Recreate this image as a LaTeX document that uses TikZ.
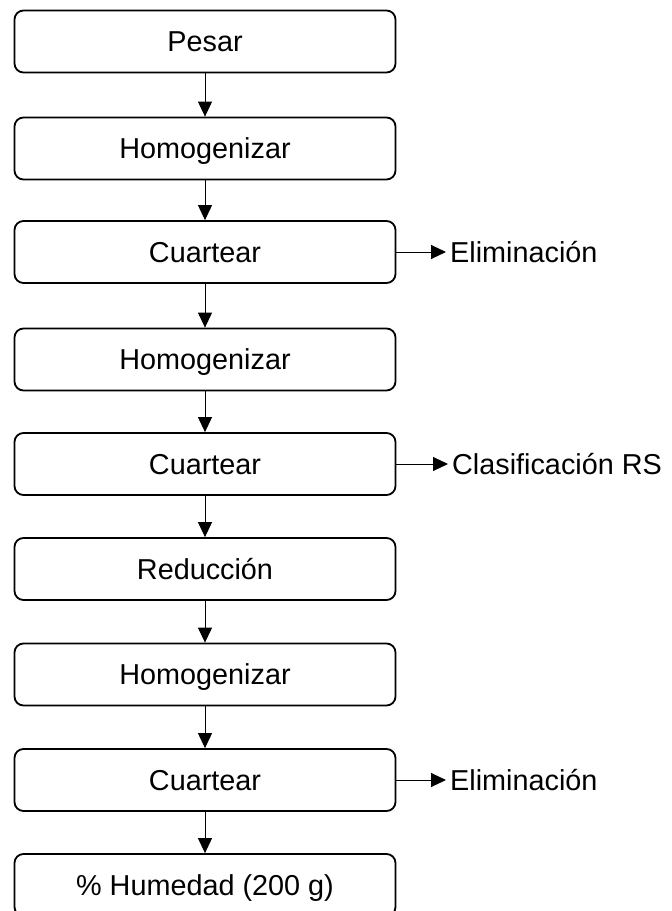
\documentclass[tikz,border=0pt]{standalone}
\usepackage{fontspec}
\setmainfont{Liberation Sans}
\usetikzlibrary{arrows.meta,positioning}
\tikzset{stepbox/.style={draw,line width=1.8pt,rounded corners=9pt,minimum width=381pt,
  minimum height=62pt,inner sep=0pt,text height=20.6pt,text depth=0pt,
  font=\fontsize{28.8}{34}\selectfont}}
\tikzset{outtext/.style={anchor=west,inner ysep=0pt,inner xsep=4pt,text height=20.6pt,text depth=0pt,
  font=\fontsize{28.8}{34}\selectfont}}
\tikzset{flow/.style={line width=1pt,-{Triangle[length=15pt,width=14pt]}}}

\begin{document}
\begin{tikzpicture}[x=1pt,y=-1pt]
\clip (0,0) rectangle (672,911);
\node[stepbox] (pesar) at (205,41.5) {Pesar};
\node[stepbox] (homogA) at (205,148.5) {Homogenizar};
\node[stepbox] (cuartA) at (205,252) {Cuartear};
\node[stepbox] (homogB) at (205,359.5) {Homogenizar};
\node[stepbox] (cuartB) at (205,464) {Cuartear};
\node[stepbox] (reduc) at (205,569) {Reducción};
\node[stepbox] (homogC) at (205,674.5) {Homogenizar};
\node[stepbox] (cuartC) at (205,780) {Cuartear};
\node[stepbox] (humed) at (205,885) {\% Humedad (200 g)};
\node[outtext] (elimA) at (446,252) {Eliminación};
\node[outtext] (clasif) at (448,464) {Clasificación RS};
\node[outtext] (elimB) at (446,780) {Eliminación};
\path[flow] (pesar) edge (homogA)
  (homogA) edge (cuartA)
  (cuartA) edge (homogB)
  (homogB) edge (cuartB)
  (cuartB) edge (reduc)
  (reduc) edge (homogC)
  (homogC) edge (cuartC)
  (cuartC) edge (humed);
\path[flow] (cuartA) edge (elimA)
  (cuartB) edge (clasif)
  (cuartC) edge (elimB);
\end{tikzpicture}
\end{document}
